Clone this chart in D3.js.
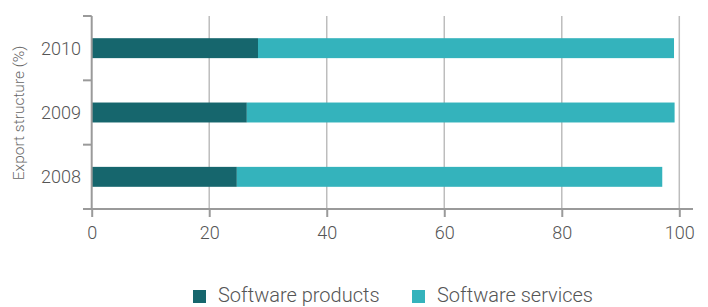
<!DOCTYPE html>
<html><head><meta charset="utf-8">
<script src="https://cdn.jsdelivr.net/npm/d3@7"></script>
<style>
html,body{margin:0;padding:0;background:#fff;}
svg text{font-family:Roboto,"Open Sans",sans-serif;font-weight:300;fill:#555;}
</style></head>
<body>
<svg id="chart" width="708" height="307"></svg>
<script>
const years = ["2010", "2009", "2008"];
const softwareProducts = [28.3, 26.4, 24.7];
const softwareServices = [70.8, 72.8, 72.4];
const xTicks = [0, 20, 40, 60, 80, 100];
const seriesNames = ["Software products", "Software services"];
const colors = ["#16666d", "#34b3bc"];

const svg = d3.select("#chart");
const mLeft = 91.7, mRight = 679.3, mTop = 16, mBottom = 209;

const x = d3.scaleLinear().domain([0, 100]).range([mLeft, mRight]);
const y = d3.scaleBand().domain(years).range([mTop, mBottom]).paddingInner(0.69).paddingOuter(0.345);

// gridlines
svg.append("g").selectAll("line").data(xTicks.slice(1)).join("line")
  .attr("x1", d => x(d)).attr("x2", d => x(d))
  .attr("y1", mTop).attr("y2", mBottom)
  .attr("stroke", "#bdbdbd").attr("stroke-width", 1.5);

// bars
const rows = years.map((yr, i) => ({year: yr, vals: [softwareProducts[i], softwareServices[i]]}));
const g = svg.append("g");
rows.forEach(r => {
  let acc = 0;
  r.vals.forEach((v, j) => {
    g.append("rect")
      .attr("x", x(acc)).attr("y", y(r.year))
      .attr("width", x(acc + v) - x(acc)).attr("height", y.bandwidth())
      .attr("fill", colors[j]);
    acc += v;
  });
});

// y axis
const yAxisG = svg.append("g");
yAxisG.append("line").attr("x1", mLeft).attr("x2", mLeft).attr("y1", mTop).attr("y2", mBottom)
  .attr("stroke", "#9a9a9a").attr("stroke-width", 2);
const yTickPos = [mTop, y("2009") - y.step()*y.paddingInner()/2, y("2008") - y.step()*y.paddingInner()/2, mBottom];
yAxisG.selectAll(".yt").data(yTickPos).join("line")
  .attr("x1", 83).attr("x2", mLeft).attr("y1", d => d).attr("y2", d => d)
  .attr("stroke", "#9a9a9a").attr("stroke-width", 2);
yAxisG.selectAll("text").data(years).join("text")
  .attr("x", 81).attr("y", d => y(d) + y.bandwidth()/2)
  .attr("text-anchor", "end").attr("dominant-baseline", "central")
  .style("font-size", "18px").text(d => d);

// x axis
const xAxis = d3.axisBottom(x).tickValues(xTicks).tickSize(8).tickPadding(9).tickFormat(d3.format("d"));
const xg = svg.append("g").attr("transform", `translate(0,${mBottom})`).call(xAxis);
xg.select(".domain").remove();
xg.selectAll(".tick line").attr("stroke", "#9a9a9a").attr("stroke-width", 2);
xg.selectAll(".tick text").style("font-size", "18px").attr("fill", "#555");
svg.append("line").attr("x1", 83).attr("x2", 693).attr("y1", mBottom).attr("y2", mBottom)
  .attr("stroke", "#9a9a9a").attr("stroke-width", 2);

// y title
svg.append("text").attr("transform", "translate(24,113) rotate(-90)")
  .attr("text-anchor", "middle").style("font-size", "15.5px").style("fill", "#666").text("Export structure (%)");

// legend
const legendX = [193, 412];
const lg = svg.append("g");
seriesNames.forEach((n, i) => {
  lg.append("rect").attr("x", legendX[i]).attr("y", 290).attr("width", 13).attr("height", 13).attr("fill", colors[i]);
  lg.append("text").attr("x", legendX[i] + 25).attr("y", 302).style("font-size", "20px").text(n);
});
</script>
</body></html>
